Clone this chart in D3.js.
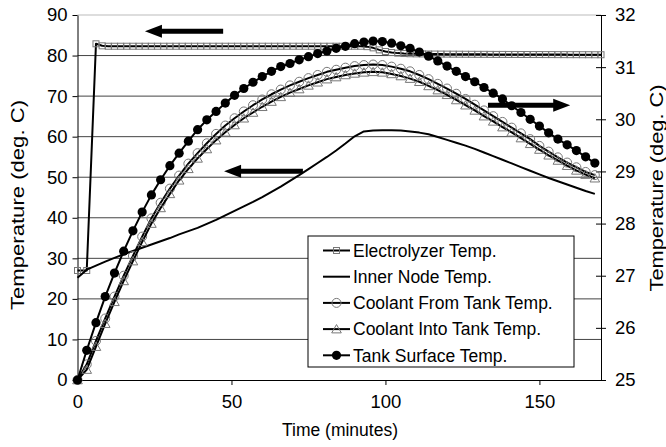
<!DOCTYPE html>
<html>
<head>
<meta charset="utf-8">
<script src="https://cdn.jsdelivr.net/npm/d3@7"></script>
<style>
  body { margin: 0; background: #fff; }
  svg { display: block; font-family: "Liberation Sans", Arial, sans-serif; }
</style>
</head>
<body>
<svg id="chart"></svg>
<script>
// sample times (minutes)
const minutes = [0,3,6,9,12,15,18,21,24,27,30,33,36,39,42,45,48,51,54,57,60,63,66,69,72,75,78,81,84,87,90,93,96,99,102,105,108,111,114,117,120,123,126,129,132,135,138,141,144,147,150,153,156,159,162,165,168];
const elecMinutes = [0,3,6,8,10,12,14,16,18,20,22,24,26,28,30,32,34,36,38,40,42,44,46,48,50,52,54,56,58,60,62,64,66,68,70,72,74,76,78,80,82,84,86,88,90,92,94,96,98,100,102,104,106,108,110,112,114,116,118,120,122,124,126,128,130,132,134,136,138,140,142,144,146,148,150,152,154,156,158,160,162,164,166,168,170];

// left axis series (deg. C)
const electrolyzer = [27.0,27.0,82.9,82.4,
  82.3,82.3,82.3,82.3,82.3,82.3,82.3,82.3,82.3,82.3,82.3,82.3,82.3,82.3,82.3,82.3,82.3,82.3,82.3,82.3,82.3,
  82.3,82.3,82.3,82.3,82.3,82.3,82.3,82.3,82.3,82.3,82.3,82.3,82.3,82.3,82.3,82.3,82.3,82.3,82.3,82.3,82.3,
  82.2,81.9,81.4,81.0,80.75,80.6,80.5,80.45,80.42,80.4,80.38,80.37,80.36,80.35,80.34,80.33,80.32,80.31,80.3,80.3,
  80.29,80.28,80.28,80.27,80.27,80.26,80.26,80.25,80.25,80.24,80.24,80.23,80.23,80.22,80.22,80.21,80.21,80.2,80.2];
const innerNode = [25.2,27.2,28.2,29.2,30.1,31.0,31.8,32.6,33.4,34.2,35.0,35.9,36.7,37.5,38.5,39.5,40.6,41.7,42.8,43.9,45.1,46.4,47.7,49.1,50.5,52.0,53.5,55.0,56.6,58.3,60.1,61.3,61.5,61.6,61.6,61.5,61.3,61.0,60.6,59.9,59.2,58.5,57.8,57.0,56.1,55.2,54.3,53.4,52.5,51.6,50.7,49.8,49.0,48.2,47.4,46.6,45.9];

// right axis series (deg. C)
const coolantFrom = [25.00,25.30,25.75,26.18,26.60,27.00,27.38,27.75,28.10,28.40,28.67,28.92,29.15,29.35,29.54,29.72,29.88,30.02,30.15,30.27,30.38,30.48,30.57,30.65,30.72,30.79,30.85,30.91,30.95,30.99,31.02,31.04,31.05,31.04,31.01,30.97,30.92,30.85,30.77,30.68,30.59,30.49,30.39,30.28,30.17,30.06,29.95,29.84,29.73,29.62,29.49,29.38,29.27,29.17,29.08,28.99,28.93];
const coolantInto = [25.00,25.20,25.64,26.08,26.50,26.90,27.28,27.65,28.00,28.30,28.57,28.83,29.05,29.25,29.43,29.60,29.75,29.89,30.02,30.13,30.24,30.34,30.43,30.51,30.58,30.65,30.71,30.77,30.81,30.85,30.88,30.90,30.91,30.90,30.87,30.83,30.78,30.72,30.64,30.56,30.47,30.37,30.27,30.17,30.06,29.96,29.85,29.75,29.64,29.53,29.42,29.31,29.21,29.11,29.02,28.94,28.87];
const tankSurface = [25.00,25.57,26.10,26.60,27.05,27.47,27.86,28.22,28.55,28.84,29.11,29.35,29.58,29.80,29.99,30.15,30.31,30.46,30.59,30.71,30.82,30.92,31.01,31.07,31.14,31.20,31.26,31.31,31.36,31.40,31.45,31.48,31.50,31.49,31.46,31.41,31.36,31.29,31.21,31.12,31.02,30.92,30.82,30.72,30.61,30.50,30.39,30.26,30.13,30.00,29.87,29.74,29.62,29.51,29.40,29.28,29.16];

const leftTicks = [0,10,20,30,40,50,60,70,80,90];
const rightTicks = [25,26,27,28,29,30,31,32];
const timeTicks = [0,50,100,150];
const legendLabels = ["Electrolyzer Temp.","Inner Node Temp.","Coolant From Tank Temp.","Coolant Into Tank Temp.","Tank Surface Temp."];
const legendMarkers = ["square","none","circle","triangle","dot"];

// arrows: [tail minutes, tip minutes, value, axis]
const arrows = [[47.3,21.9,86.0,"left"],[73.2,47.6,51.5,"left"],[133.3,160.0,30.27,"right"]];

const width = 666;
const height = 447;
const marginTop = 15;
const marginRight = 65;
const marginBottom = 67;
const marginLeft = 77.5;
const fontSize = 17.5;
const tickFont = 18.5;

const x = d3.scaleLinear().domain([0, 170]).range([marginLeft, width - marginRight]);
const yL = d3.scaleLinear().domain([0, 90]).range([height - marginBottom, marginTop]);
const yR = d3.scaleLinear().domain([25, 32]).range([height - marginBottom, marginTop]);

const svg = d3.select("#chart")
    .attr("width", width)
    .attr("height", height)
    .attr("viewBox", [0, 0, width, height]);

// horizontal grid lines
svg.append("g")
  .selectAll("line")
  .data(leftTicks.slice(1))
  .join("line")
    .attr("x1", marginLeft)
    .attr("x2", width - marginRight)
    .attr("y1", d => yL(d))
    .attr("y2", d => yL(d))
    .attr("stroke", d => d === 90 ? "#bbb" : "#444")
    .attr("stroke-width", 1);

// axes
svg.append("g")
    .attr("transform", `translate(${marginLeft},0)`)
    .call(d3.axisLeft(yL).tickValues(leftTicks).tickSize(5).tickSizeOuter(0).tickPadding(5))
    .call(g => g.attr("font-family", null).attr("font-size", tickFont));

svg.append("g")
    .attr("transform", `translate(0,${height - marginBottom})`)
    .call(d3.axisBottom(x).tickValues(timeTicks).tickSize(5).tickSizeOuter(0).tickPadding(10))
    .call(g => g.attr("font-family", null).attr("font-size", tickFont));

svg.append("g")
    .attr("transform", `translate(${width - marginRight},0)`)
    .call(d3.axisRight(yR).tickValues(rightTicks).tickFormat(d3.format("d")).tickSize(5).tickSizeOuter(0).tickPadding(9))
    .call(g => g.attr("font-family", null).attr("font-size", tickFont))
    .call(g => g.selectAll(".tick line").attr("x1", -5));

// axis titles
svg.append("text")
    .attr("transform", `translate(24,205) rotate(-90)`)
    .attr("text-anchor", "middle")
    .attr("font-size", 18)
    .attr("textLength", 210)
    .attr("lengthAdjust", "spacingAndGlyphs")
    .text("Temperature (deg. C)");
svg.append("text")
    .attr("transform", `translate(663,188) rotate(-90)`)
    .attr("text-anchor", "middle")
    .attr("font-size", 18)
    .attr("textLength", 207)
    .attr("lengthAdjust", "spacingAndGlyphs")
    .text("Temperature (deg. C)");
svg.append("text")
    .attr("x", 340)
    .attr("y", 436)
    .attr("text-anchor", "middle")
    .attr("font-size", fontSize)
    .text("Time (minutes)");

// markers
const triangle = d3.symbol(d3.symbolTriangle, 40);
function marker(g, type) {
  if (type === "square") {
    g.append("rect").attr("x", -3).attr("y", -3).attr("width", 6).attr("height", 6)
      .attr("fill", "none").attr("stroke", "#777").attr("stroke-width", 1);
  } else if (type === "circle") {
    g.append("circle").attr("r", 4.5).attr("fill", "none").attr("stroke", "#777").attr("stroke-width", 1);
  } else if (type === "triangle") {
    g.append("path").attr("d", triangle()).attr("transform", "translate(0,1)")
      .attr("fill", "none").attr("stroke", "#777").attr("stroke-width", 1);
  } else if (type === "dot") {
    g.append("circle").attr("r", 4.6).attr("fill", "#000");
  }
}

function drawSeries(times, values, y, type) {
  const pts = times.map((t, i) => [t, values[i]]);
  const line = d3.line().x(d => x(d[0])).y(d => y(d[1]));
  const g = svg.append("g");
  g.append("path")
      .attr("d", line(pts))
      .attr("fill", "none")
      .attr("stroke", "#000")
      .attr("stroke-width", 2)
      .attr("stroke-linejoin", "round");
  if (type !== "none") {
    g.selectAll("g")
      .data(pts)
      .join("g")
        .attr("transform", d => `translate(${x(d[0])},${y(d[1])})`)
        .each(function() { marker(d3.select(this), type); });
  }
}

drawSeries(elecMinutes, electrolyzer, yL, "square");
drawSeries(minutes, innerNode, yL, "none");
drawSeries(minutes, coolantFrom, yR, "circle");
drawSeries(minutes, coolantInto, yR, "triangle");
drawSeries(minutes, tankSurface, yR, "dot");

// thick annotation arrows
svg.append("g")
  .selectAll("path")
  .data(arrows)
  .join("path")
    .attr("fill", "#000")
    .attr("d", ([t0, t1, v, axis]) => {
      const y = (axis === "left" ? yL : yR)(v);
      const x0 = x(t0), x1 = x(t1);
      const dir = x1 > x0 ? 1 : -1;
      const hx = x1 - dir * 17;
      return `M${x0},${y - 2.5}L${hx},${y - 2.5}L${hx},${y - 6.5}L${x1},${y}L${hx},${y + 6.5}L${hx},${y + 2.5}L${x0},${y + 2.5}Z`;
    });

// legend
const legend = svg.append("g").attr("transform", "translate(308,236)");
legend.append("rect")
    .attr("width", 266)
    .attr("height", 131)
    .attr("fill", "#fff")
    .attr("stroke", "#000")
    .attr("stroke-width", 1);
legendLabels.forEach((label, i) => {
  const row = legend.append("g").attr("transform", `translate(0,${14.5 + i * 26.2})`);
  row.append("line").attr("x1", 15).attr("x2", 42).attr("stroke", "#000").attr("stroke-width", 2);
  const m = row.append("g").attr("transform", "translate(28.5,0)");
  marker(m, legendMarkers[i]);
  row.append("text")
      .attr("x", 45)
      .attr("y", 6.3)
      .attr("font-size", fontSize)
      .text(label);
});
</script>
</body>
</html>
